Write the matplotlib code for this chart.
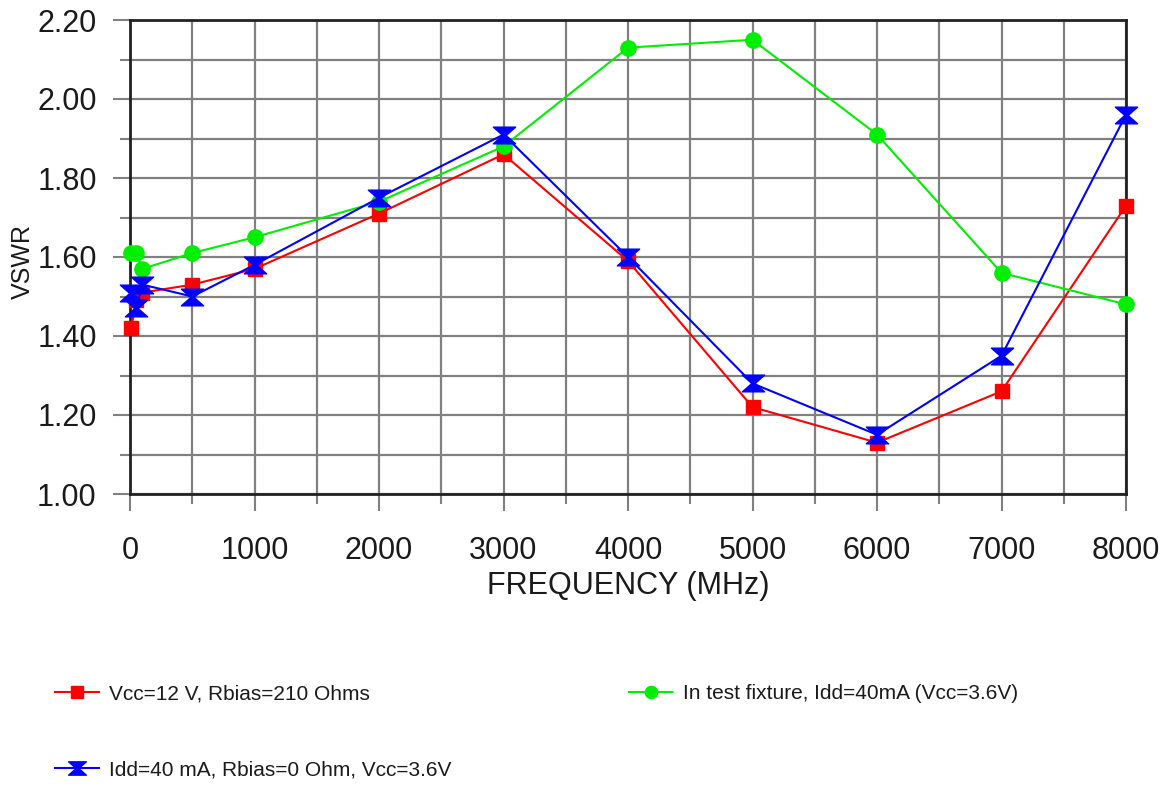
import matplotlib
matplotlib.use("Agg")
import matplotlib.pyplot as plt
from matplotlib.path import Path
from matplotlib.ticker import MultipleLocator, FormatStrFormatter

plt.rcParams["font.family"] = ["Liberation Sans", "DejaVu Sans"]

# frequenze (MHz) e VSWR
freq_red = [10, 50, 100, 500, 1000, 2000, 3000, 4000, 5000, 6000, 7000, 8000]
vswr_red = [1.42, 1.49, 1.51, 1.53, 1.57, 1.71, 1.86, 1.59, 1.22, 1.13, 1.26, 1.73]

freq_green = [10, 50, 100, 500, 1000, 2000, 3000, 4000, 5000, 6000, 7000, 8000]
vswr_green = [1.61, 1.61, 1.57, 1.61, 1.65, 1.74, 1.88, 2.13, 2.15, 1.91, 1.56, 1.48]

freq_blue = [10, 50, 100, 500, 1000, 2000, 3000, 4000, 5000, 6000, 7000, 8000]
vswr_blue = [1.51, 1.47, 1.53, 1.50, 1.58, 1.75, 1.91, 1.60, 1.28, 1.15, 1.35, 1.96]

label_red = "Vcc=12 V, Rbias=210 Ohms"
label_green = "In test fixture, Idd=40mA (Vcc=3.6V)"
label_blue = "Idd=40 mA, Rbias=0 Ohm, Vcc=3.6V"

# marker a clessidra per la serie blu
hourglass = Path(
    [(-1, 0.75), (1, 0.75), (0.15, 0), (1, -0.75), (-1, -0.75), (-0.15, 0), (-1, 0.75)],
    [Path.MOVETO, Path.LINETO, Path.LINETO, Path.LINETO, Path.LINETO, Path.LINETO, Path.CLOSEPOLY],
)

fig = plt.figure(figsize=(11.63, 7.86), dpi=100)
ax = fig.add_axes([130 / 1163, 1 - 494 / 786, 996 / 1163, 474 / 786])

l_red, = ax.plot(freq_red, vswr_red, color="#ff0000", lw=1.5, marker="s",
                 markersize=10.5, clip_on=False, zorder=3, label=label_red)
l_green, = ax.plot(freq_green, vswr_green, color="#00ee00", lw=1.5, marker="o",
                   markersize=11, clip_on=False, zorder=4, label=label_green)
l_blue, = ax.plot(freq_blue, vswr_blue, color="#0000ff", lw=1.5, marker=hourglass,
                  markersize=16, clip_on=False, zorder=5, label=label_blue)

ax.set_xlim(0, 8000)
ax.set_ylim(1.0, 2.2)
ax.xaxis.set_major_locator(MultipleLocator(1000))
ax.xaxis.set_minor_locator(MultipleLocator(500))
ax.yaxis.set_major_locator(MultipleLocator(0.2))
ax.yaxis.set_minor_locator(MultipleLocator(0.1))
ax.yaxis.set_major_formatter(FormatStrFormatter("%.2f"))

ax.grid(True, which="both", color="#808080", lw=1.6, zorder=0)
ax.set_axisbelow(True)

ax.tick_params(axis="both", which="major", labelsize=22, length=12, width=1.5,
               color="#808080", labelcolor="#1a1a1a")
ax.tick_params(axis="both", which="minor", length=7, width=1.5, color="#808080")
ax.tick_params(axis="y", which="major", pad=12)
ax.tick_params(axis="x", which="major", pad=18)

for s in ax.spines.values():
    s.set_color("#222222")
    s.set_linewidth(2)

ax.set_xlabel("FREQUENCY (MHz)", fontsize=22, color="#1a1a1a", labelpad=4)
ax.set_ylabel("VSWR", fontsize=18, color="#1a1a1a")
ax.yaxis.set_label_coords((35 - 130) / 996, 0.49)

fig.legend(handles=[l_red, l_blue, l_green], ncol=2, loc="upper left",
           bbox_to_anchor=(55 / 1163, 1 - 684 / 786), frameon=False,
           fontsize=15, handlelength=2.1, handletextpad=0.5, columnspacing=8.5,
           labelspacing=2.75, borderpad=0, borderaxespad=0, markerscale=0.8,
           labelcolor="#1a1a1a")

fig.savefig("out.png", dpi=100)
